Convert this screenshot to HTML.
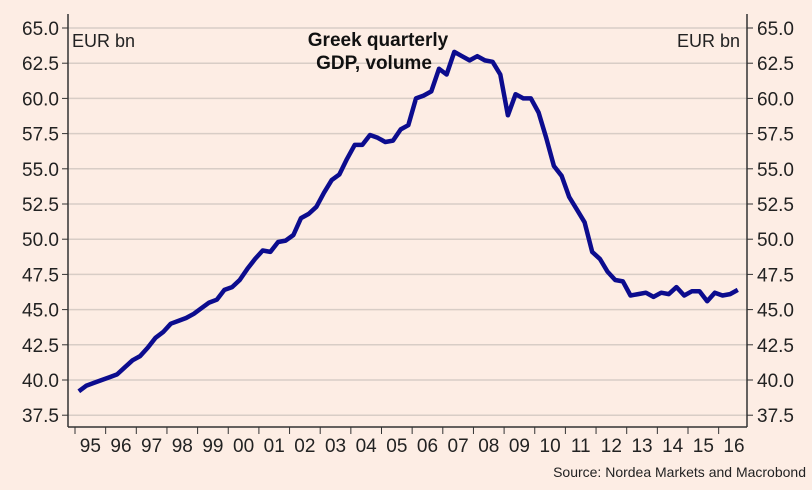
<!DOCTYPE html>
<html><head><meta charset="utf-8"><style>
body{margin:0;background:#fdede4;}
svg{display:block;font-family:"Liberation Sans Narrow","Liberation Sans",sans-serif;}
</style></head><body>
<svg id="chart" width="812" height="490">
<rect width="812" height="490" fill="#fdede4"/>
<g id="grid"></g><g id="axes"></g>
<text x="72" y="47" font-size="18" fill="#222" font-family="Liberation Sans, sans-serif">EUR bn</text>
<text x="740" y="47" font-size="18" fill="#222" text-anchor="end" font-family="Liberation Sans, sans-serif">EUR bn</text>
<text x="376" y="46" font-size="19" font-weight="bold" fill="#111" text-anchor="middle" font-family="Liberation Sans, sans-serif"><tspan x="378">Greek quarterly</tspan><tspan x="374" dy="23">GDP, volume</tspan></text>
<text x="806" y="477" font-size="14" fill="#222" text-anchor="end">Source: Nordea Markets and Macrobond</text>
<path id="line" fill="none" stroke="#0c0c8e" stroke-width="4.5" stroke-linejoin="round"/>
</svg>
<script>
const years=["95","96","97","98","99","00","01","02","03","04","05","06","07","08","09","10","11","12","13","14","15","16"];
const yTicks=[37.5,40,42.5,45,47.5,50,52.5,55,57.5,60,62.5,65];
const gdp=[39.2,39.6,39.8,40.0, 40.2,40.4,40.9,41.4, 41.7,42.3,43.0,43.4, 44.0,44.2,44.4,44.7,
45.1,45.5,45.7,46.4, 46.6,47.1,47.9,48.6, 49.2,49.1,49.8,49.9, 50.3,51.5,51.8,52.3,
53.3,54.2,54.6,55.7, 56.7,56.7,57.4,57.2, 56.9,57.0,57.8,58.1, 60.0,60.2,60.5,62.1,
61.7,63.3,63.0,62.7, 63.0,62.7,62.6,61.7, 58.8,60.3,60.0,60.0, 59.0,57.2,55.2,54.5,
53.0,52.1,51.2,49.1, 48.6,47.7,47.1,47.0, 46.0,46.1,46.2,45.9, 46.2,46.1,46.6,46.0,
46.3,46.3,45.6,46.2, 46.0,46.1,46.4];
const L=68,R=747,B=427,T=14;
const x=t=>75+t*30.65; // t in years since 1995
const y=v=>28+(65-v)*14.08;
const ns="http://www.w3.org/2000/svg";
const grid=document.getElementById('grid'),axes=document.getElementById('axes');
function mk(tag,at,parent){const e=document.createElementNS(ns,tag);for(const k in at)e.setAttribute(k,at[k]);parent.appendChild(e);return e;}
yTicks.forEach(v=>{
 const g=mk('line',{x1:L,x2:R,y1:y(v),y2:y(v),stroke:'#d8cdc6','stroke-width':1.5},grid);
 
 
 mk('line',{x1:L-6,x2:L,y1:y(v),y2:y(v),stroke:'#333'},axes);
 mk('line',{x1:R,x2:R+6,y1:y(v),y2:y(v),stroke:'#333'},axes);
 const a=mk('text',{x:L-9,y:y(v)+7,'font-size':19,'text-anchor':'end',fill:'#222'},axes);a.textContent=v.toFixed(1);
 
 
 const b=mk('text',{x:R+10,y:y(v)+7,'font-size':19,fill:'#222'},axes);b.textContent=v.toFixed(1);
 
 
});
mk('line',{x1:L,x2:L,y1:T,y2:B,stroke:'#333','stroke-width':1.5},axes);
mk('line',{x1:R,x2:R,y1:T,y2:B,stroke:'#333','stroke-width':1.5},axes);
mk('line',{x1:L,x2:R,y1:B,y2:B,stroke:'#333','stroke-width':1.5},axes);
years.forEach((lab,i)=>{
 mk('line',{x1:x(i),x2:x(i),y1:B,y2:B+7,stroke:'#333'},axes);
 const t=mk('text',{x:x(i+0.5),y:B+25,'font-size':19,'text-anchor':'middle',fill:'#222'},axes);t.textContent=lab;
 
 
});
document.getElementById('line').setAttribute('d',gdp.map((v,i)=>(i?'L':'M')+x((i+0.5)/4).toFixed(1)+','+y(v).toFixed(1)).join(''));
</script>
</body></html>
